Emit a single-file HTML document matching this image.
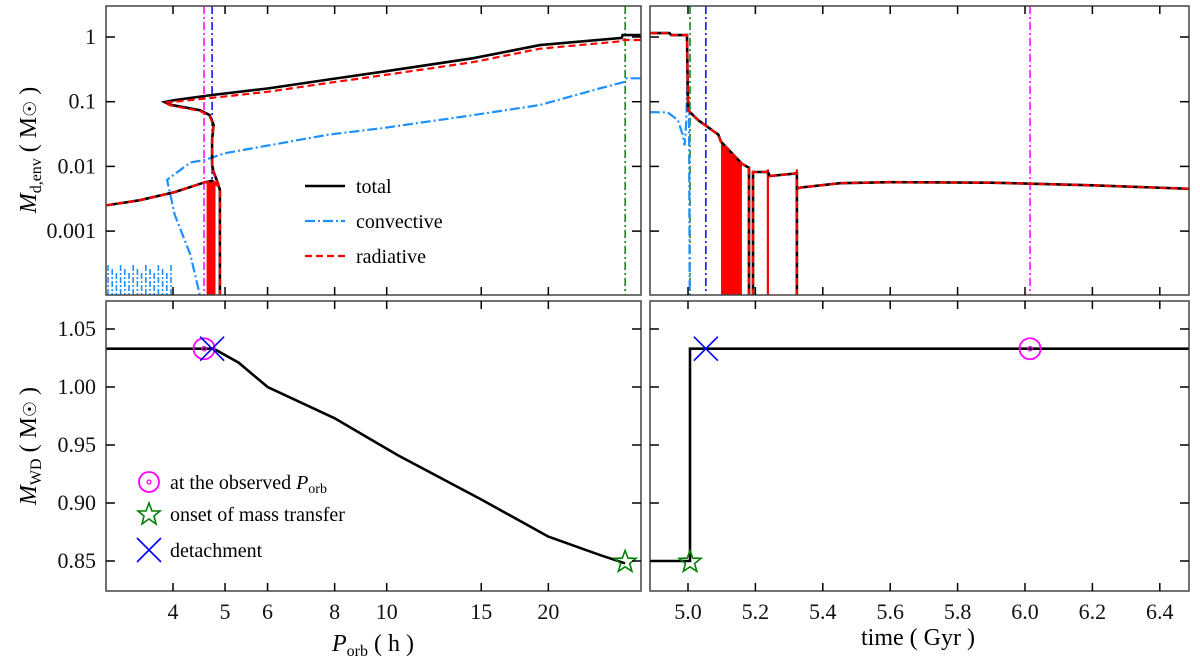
<!DOCTYPE html>
<html><head><meta charset="utf-8"><style>
html,body{margin:0;padding:0;background:#fff;}
svg{display:block;font-family:"Liberation Serif",serif;}
</style></head><body>
<svg id="chart" width="1200" height="660" viewBox="0 0 1200 660" xmlns="http://www.w3.org/2000/svg">
<defs>
<clipPath id="cTL"><rect x="106" y="6" width="535" height="289"/></clipPath>
<clipPath id="cTR"><rect x="650" y="6" width="539" height="289"/></clipPath>
<clipPath id="cBL"><rect x="106" y="301" width="535" height="290"/></clipPath>
<clipPath id="cBR"><rect x="650" y="301" width="539" height="290"/></clipPath>
</defs>
<g id="layer"></g>
</svg>
<script>
// ---- data ----
const porbTicks = [4,5,6,8,10,15,20];
const timeTicks = [5.0,5.2,5.4,5.6,5.8,6.0,6.2,6.4];
const envTicks = [1,0.1,0.01,0.001];
const envTickLabels = ["1","0.1","0.01","0.001"];
const wdTicks = [1.05,1.00,0.95,0.90,0.85];
const wdTickLabels = ["1.05","1.00","0.95","0.90","0.85"];

// top-left (P_orb h, M_env)
const totP = [29.7,27.5,27.4,19.3,14.5,9.8,7.8,6.0,4.73,4.03,3.86,3.95,4.49,4.68,4.76,4.73,4.73,4.76,4.85,4.89,4.89];
const totM = [1.07,1.07,0.97,0.75,0.47,0.29,0.22,0.16,0.127,0.106,0.099,0.09,0.074,0.062,0.044,0.026,0.0105,0.0082,0.0055,0.0043,0.0001];
const lowP = [3.0,3.47,4.03,4.59,4.73,4.8,4.85];
const lowM = [0.0025,0.003,0.004,0.0057,0.006,0.0055,0.005];
const radP = [29.7,27.5,27.4,19.3,14.5,9.8,7.8,6.0,4.73,4.03,3.86,3.95,4.49,4.68,4.76,4.73,4.73,4.76,4.85,4.89,4.89];
const radM = [0.9,0.9,0.86,0.66,0.41,0.255,0.195,0.142,0.115,0.1,0.097,0.088,0.072,0.06,0.043,0.025,0.0102,0.008,0.0054,0.0042,0.0001];
const convP = [29.7,28.0,27.6,25.1,19.3,14.5,9.8,7.8,6.0,5.0,4.59,4.31,3.9,4.03,4.31,4.49];
const convM = [0.23,0.23,0.2,0.163,0.089,0.062,0.039,0.031,0.021,0.016,0.0126,0.0115,0.0062,0.0018,0.00043,0.0001];
const radFillP = [4.62,4.80];
const radFillTop = [0.0058,0.0055];
const leftVLines = [4.57,4.73,27.8];

// top-right (time Gyr, M_env)
const tTot = [4.887,4.945,4.95,4.997,5.0,5.03,5.09,5.098,5.16,5.181,5.181];
const mTot = [1.15,1.15,1.07,1.07,0.074,0.052,0.031,0.024,0.011,0.0095,0.0001];
const tSeg2 = [5.193,5.193,5.237,5.243,5.32,5.323,5.323];
const mSeg2 = [0.0001,0.0082,0.0082,0.0071,0.0078,0.0078,0.0001];
const tSeg3 = [5.323,5.332,5.451,5.6,5.9,6.2,6.487];
const mSeg3 = [0.0045,0.0047,0.0055,0.0057,0.0056,0.0051,0.0045];
const tConv = [4.887,4.94,4.97,4.985,4.99,4.995,4.998,5.003,5.005];
const mConv = [0.069,0.068,0.052,0.03,0.021,0.05,0.22,0.09,0.0001];
const tFill = [5.098,5.16];
const tRedLines = [5.181,5.237,5.323];
const rightVLines = [5.006,5.053,6.015];

// bottom (M_WD)
const wdP = [3.0,4.6,4.76,5.3,6.0,8.0,10.5,15,20,25,27.8];
const wdM = [1.033,1.033,1.033,1.021,1.0,0.973,0.941,0.903,0.871,0.855,0.848];
const wdT = [4.887,5.006,5.006,5.02,6.487];
const wdTM = [0.85,0.85,1.033,1.033,1.033];
const mkObsP = 4.57, mkOnsP = 27.8, mkDetP = 4.73;
const mkObsT = 6.015, mkOnsT = 5.006, mkDetT = 5.053;
const mkWD = 1.033, mkWD0 = 0.85;

// ---- scales ----
const L={x0:106,x1:641}, R={x0:650,x1:1189}, T={y0:6,y1:295}, B={y0:301,y1:591};
const xP = p => 173 + 537*(Math.log10(p)-Math.log10(4));
const xT = t => 688 + 337*(t-5.0);
const yE = v => 37 - 64.7*Math.log10(v);
const yW = v => 329 + (1.05-v)*1160;

const NS="http://www.w3.org/2000/svg";
const layer=document.getElementById('layer');
function mk(tag,attrs,parent){const e=document.createElementNS(NS,tag);for(const k in attrs)e.setAttribute(k,attrs[k]);(parent||layer).appendChild(e);return e;}
function pts(xs,ys,fx,fy){return xs.map((v,i)=>fx(v).toFixed(1)+','+fy(ys[i]).toFixed(1)).join(' ');}

// panels frames
const panels=[[L,T,'panel-top-left'],[R,T,'panel-top-right'],[L,B,'panel-bottom-left'],[R,B,'panel-bottom-right']];

// series
let g=mk('g',{'clip-path':'url(#cTL)'});


// blue hatch decoration
for(let i=0;i<16;i++){const x=108+i*4.2;const l=mk('line',{x1:x,y1:265+(i%3)*4,x2:x,y2:295,stroke:'#1e90ff','stroke-width':1.6,'stroke-dasharray':'6,2,2,2'},g);

}
leftVLines.forEach((p,i)=>{const l=mk('line',{x1:xP(p),x2:xP(p),y1:6,y2:295,stroke:['#ff00ff','#0000ff','#008000'][i],'stroke-width':1.5,'stroke-dasharray':'8,3,2,3'},g);

});
let e=mk('polyline',{points:pts(convP,convM,xP,yE),fill:'none',stroke:'#1e90ff','stroke-width':2.2,'stroke-dasharray':'10,3,2,3'},g);


e=mk('rect',{x:xP(radFillP[0]),y:yE(radFillTop[0]),width:xP(radFillP[1])-xP(radFillP[0]),height:300,fill:'#ff0000'},g);


e=mk('polyline',{points:pts(totP,totM,xP,yE),fill:'none',stroke:'#000','stroke-width':2.6},g);


e=mk('polyline',{points:pts(lowP,lowM,xP,yE),fill:'none',stroke:'#000','stroke-width':2.6},g);


e=mk('polyline',{points:pts(radP,radM,xP,yE),fill:'none',stroke:'#ff0000','stroke-width':2.2,'stroke-dasharray':'7,4'},g);


e=mk('polyline',{points:pts(lowP,lowM,xP,yE),fill:'none',stroke:'#ff0000','stroke-width':2.2,'stroke-dasharray':'7,4'},g);



g=mk('g',{'clip-path':'url(#cTR)'});


rightVLines.forEach((t,i)=>{const l=mk('line',{x1:xT(t),x2:xT(t),y1:6,y2:295,stroke:['#008000','#0000ff','#ff00ff'][i],'stroke-width':1.5,'stroke-dasharray':'8,3,2,3'},g);

});
e=mk('polyline',{points:pts(tConv,mConv,xT,yE),fill:'none',stroke:'#1e90ff','stroke-width':2.2,'stroke-dasharray':'10,3,2,3'},g);


{const a=xT(tFill[0]),b=xT(tFill[1]);
e=mk('polygon',{points:`${a},${yE(0.024)} ${(a+b)/2},${yE(0.015)} ${b},${yE(0.011)} ${b},300 ${a},300`,fill:'#ff0000'},g);

}
tRedLines.forEach(t=>{const l=mk('line',{x1:xT(t),x2:xT(t),y1:yE(0.009),y2:300,stroke:'#ff0000','stroke-width':2.2},g);

});
[[tTot,mTot],[tSeg2,mSeg2],[tSeg3,mSeg3]].forEach(([xs,ys],i)=>{
e=mk('polyline',{points:pts(xs,ys,xT,yE),fill:'none',stroke:'#000','stroke-width':2.6},g);


e=mk('polyline',{points:pts(xs,ys,xT,yE),fill:'none',stroke:'#ff0000','stroke-width':2.2,'stroke-dasharray':'7,4'},g);

});

g=mk('g',{'clip-path':'url(#cBL)'});


e=mk('polyline',{points:pts(wdP,wdM,xP,yW),fill:'none',stroke:'#000','stroke-width':2.6},g);


g=mk('g',{'clip-path':'url(#cBR)'});


e=mk('polyline',{points:pts(wdT,wdTM,xT,yW),fill:'none',stroke:'#000','stroke-width':2.6},g);



// markers
function circ(x,y,name){const gg=mk('g',{});
mk('circle',{cx:x,cy:y,r:10.5,fill:'none',stroke:'#ff00ff','stroke-width':1.8},gg);mk('circle',{cx:x,cy:y,r:2.2,fill:'none',stroke:'#ff00ff','stroke-width':1.2},gg);}
function cross(x,y,name){const gg=mk('g',{});
mk('path',{d:`M${x-12},${y-12}L${x+12},${y+12}M${x-12},${y+12}L${x+12},${y-12}`,stroke:'#0000ff','stroke-width':1.6,fill:'none'},gg);}
function star(x,y,name){let p=[];for(let i=0;i<10;i++){const r=i%2?4.8:11.5;const a=-Math.PI/2+i*Math.PI/5;p.push((x+r*Math.cos(a)).toFixed(1)+','+(y+r*Math.sin(a)+1).toFixed(1));}
const s=mk('polygon',{points:p.join(' '),fill:'none',stroke:'#008000','stroke-width':1.6});}
circ(xP(mkObsP),yW(mkWD),'observed-marker-porb');cross(xP(mkDetP),yW(mkWD),'detachment-marker-porb');star(xP(mkOnsP),yW(mkWD0),'onset-marker-porb');
circ(xT(mkObsT),yW(mkWD),'observed-marker-time');cross(xT(mkDetT),yW(mkWD),'detachment-marker-time');star(xT(mkOnsT),yW(mkWD0),'onset-marker-time');

// frames & ticks
function tick(x1,y1,x2,y2){mk('line',{x1,y1,x2,y2,stroke:'#000','stroke-width':1.5});}
function text(x,y,s,anchor,name,size){const t=mk('text',{x,y,'text-anchor':anchor||'middle','font-size':size||22,fill:'#111'});t.textContent=s;return t;}
panels.forEach(([X,Y,name])=>{const r=mk('rect',{x:X.x0,y:Y.y0,width:X.x1-X.x0,height:Y.y1-Y.y0,fill:'none',stroke:'#444','stroke-width':1.5});
});
[T,B].forEach(Y=>{porbTicks.forEach(p=>{const x=xP(p);tick(x,Y.y0,x,Y.y0+8);tick(x,Y.y1,x,Y.y1-8);});
timeTicks.forEach(t=>{const x=xT(t);tick(x,Y.y0,x,Y.y0+8);tick(x,Y.y1,x,Y.y1-8);});});
[L,R].forEach(X=>{envTicks.forEach(v=>{const y=yE(v);tick(X.x0,y,X.x0+9,y);tick(X.x1,y,X.x1-9,y);});
wdTicks.forEach(v=>{const y=yW(v);tick(X.x0,y,X.x0+9,y);tick(X.x1,y,X.x1-9,y);});});
porbTicks.forEach(p=>text(xP(p),619,String(p),'middle','x-tick-porb-'+p));
timeTicks.forEach(t=>text(xT(t),619,t.toFixed(1),'middle','x-tick-time-'+t.toFixed(1)));
envTicks.forEach((v,i)=>text(96,yE(v)+7,envTickLabels[i],'end','y-tick-env-'+i));
wdTicks.forEach((v,i)=>text(96,yW(v)+7,wdTickLabels[i],'end','y-tick-wd-'+i));
</script>
<svg width="0" height="0"></svg>
<div style="position:absolute;left:0;top:0;width:1200px;height:660px;pointer-events:none;">
<svg width="1200" height="660" style="position:absolute;left:0;top:0;font-family:'Liberation Serif',serif;">
<g font-size="20">
<line x1="305" y1="186" x2="345" y2="186" stroke="#000" stroke-width="2.6"/>
<text x="356" y="193">total</text>
<line x1="305" y1="221" x2="345" y2="221" stroke="#1e90ff" stroke-width="2.2" stroke-dasharray="10,3,2,3"/>
<text x="356" y="228">convective</text>
<line x1="305" y1="256" x2="345" y2="256" stroke="#ff0000" stroke-width="2.2" stroke-dasharray="7,4"/>
<text x="356" y="263">radiative</text>
</g>
<g font-size="20">
<circle cx="149" cy="482" r="10" fill="none" stroke="#ff00ff" stroke-width="1.8"/><circle cx="149" cy="482" r="2" fill="none" stroke="#ff00ff" stroke-width="1.2"/>
<text x="170" y="489">at the observed <tspan font-style="italic">P</tspan><tspan font-size="14" dy="4">orb</tspan></text>
<polygon points="149,503 152,511 160,511 154,516 156,524 149,519 142,524 144,516 138,511 146,511" fill="none" stroke="#008000" stroke-width="1.6"/>
<text x="170" y="521">onset of mass transfer</text>
<path d="M137,538 L161,562 M137,562 L161,538" stroke="#0000ff" stroke-width="1.6"/>
<text x="170" y="557">detachment</text>
</g>
<text x="373" y="651" text-anchor="middle" font-size="24"><tspan font-style="italic">P</tspan><tspan font-size="16" dy="5">orb</tspan><tspan dy="-5"> ( h )</tspan></text>
<text x="918" y="645" text-anchor="middle" font-size="24">time ( Gyr )</text>
<text transform="translate(36,150) rotate(-90)" text-anchor="middle" font-size="24"><tspan font-style="italic">M</tspan><tspan font-size="16" dy="5">d,env</tspan><tspan dy="-5"> ( M</tspan><tspan font-size="18">☉</tspan><tspan> )</tspan></text>
<text transform="translate(36,446) rotate(-90)" text-anchor="middle" font-size="24"><tspan font-style="italic">M</tspan><tspan font-size="16" dy="5">WD</tspan><tspan dy="-5"> ( M</tspan><tspan font-size="18">☉</tspan><tspan> )</tspan></text>
</svg>
</div>
</body></html>
